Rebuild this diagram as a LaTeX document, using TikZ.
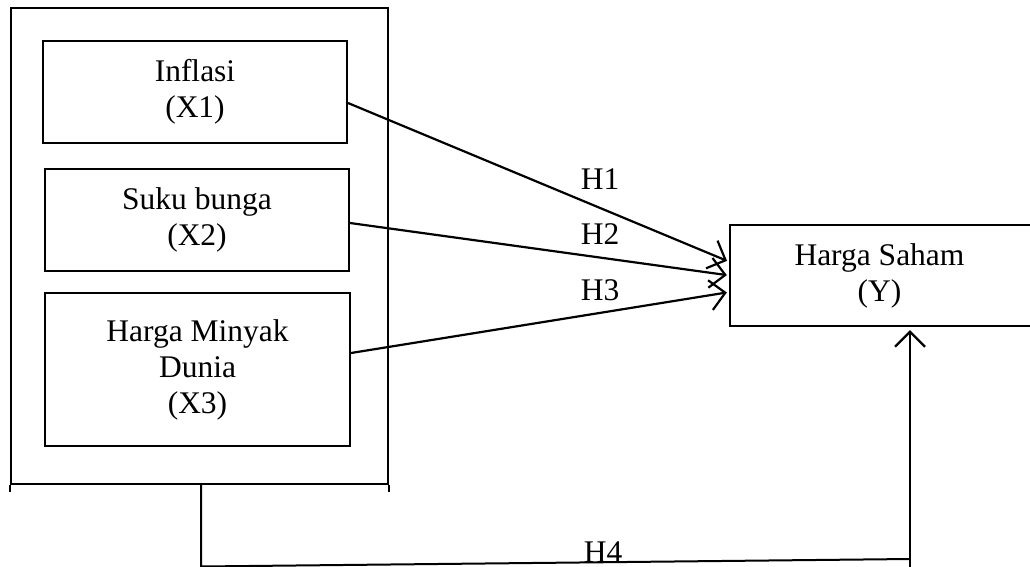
\documentclass[tikz,border=0pt]{standalone}
\usepackage{fontspec}
\setmainfont{Liberation Serif}
\usetikzlibrary{arrows.meta}
\begin{document}
\begin{tikzpicture}[x=1pt,y=-1pt,
  every node/.style={font=\fontsize{31.5}{36}\selectfont},
  box/.style={draw, line width=2pt, align=center, inner sep=0pt},
  ln/.style={line width=2pt},
  arr/.style={line width=2.2pt, -{Straight Barb[length=15pt,width=30pt,line width=2.2pt]}, shorten >=3pt},
  hlab/.style={anchor=base, inner sep=0pt}]
\useasboundingbox (0,0) rectangle (1030,567);
\clip (0,0) rectangle (1030,567);
% outer frame
\node[box, minimum width=377pt, minimum height=476pt] (outer) at (199.5,246) {};
\draw[ln] (outer.south west) -- ++(0,7);
\draw[ln] (outer.south east) -- ++(0,7);
% inner boxes
\node[box, minimum width=304pt, minimum height=102pt] (x1) at (195,92) {Inflasi\\(X1)};
\node[box, minimum width=304pt, minimum height=102pt] (x2) at (197,220) {Suku bunga\\(X2)};
\node[box, minimum width=305pt, minimum height=153pt] (x3) at (197.5,369.5) {Harga Minyak\\Dunia\\(X3)};
% target (its right side runs off the picture)
\node[align=center, inner sep=0pt, minimum width=299pt, minimum height=101pt] (y) at (879.5,275.5) {Harga Saham\\(Y)};
\draw[ln] ([xshift=10pt]y.north east) -- (y.north west) -- (y.south west) -- ([xshift=10pt]y.south east);
% arrows
\draw[arr] ([yshift=-11pt]x1.east) -- ([yshift=13.5pt]y.west);
\draw[arr] ([yshift=-3pt]x2.east) -- (y.west);
\draw[arr] ([yshift=16.5pt]x3.east) -- ([yshift=-16.5pt]y.west);
% H4 path
\coordinate (c1) at (201,566.5);
\coordinate (c2) at (910,559);
\coordinate (c3) at (910,570);
\draw[ln] ([xshift=1.5pt]outer.south) -- (c1) -- (c2);
\draw[arr, shorten >=4pt] (c3) -- (y.south -| c3);
% labels
\node[hlab] (h1) at (600,189) {H1};
\node[hlab] (h2) at (600,244) {H2};
\node[hlab] (h3) at (600,300) {H3};
\node[hlab] (h4) at (603,562) {H4};
\end{tikzpicture}
\end{document}
